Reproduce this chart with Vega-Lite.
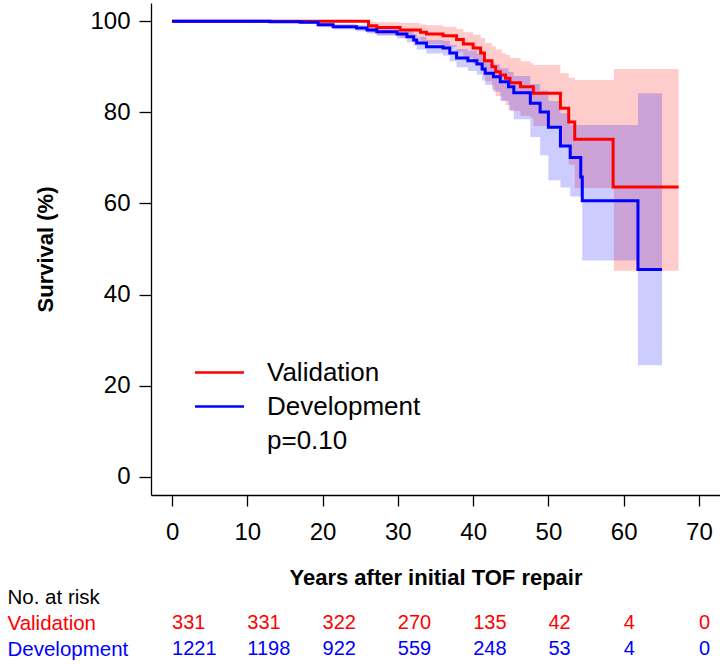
{
  "$schema": "https://vega.github.io/schema/vega-lite/v6.json",
  "autosize": {"type": "pad"},
  "padding": {"left": 7, "top": 3, "right": 0, "bottom": 0},
  "background": "white",
  "bounds": "flush",
  "spacing": 89,
  "config": {
    "view": {"stroke": null},
    "font": "Liberation Sans",
    "axis": {"grid": false, "domainColor": "black", "tickColor": "black", "labelColor": "black", "titleColor": "black", "domainWidth": 1.3, "tickWidth": 1.3}
  },
  "resolve": {"scale": {"x": "independent", "y": "independent", "color": "independent"}, "legend": {"color": "independent"}},
  "datasets": {
    "curves": [
      {"group": "Validation", "time": 0, "surv": 100},
      {"group": "Validation", "time": 26.1, "surv": 99.0},
      {"group": "Validation", "time": 27.2, "surv": 98.6},
      {"group": "Validation", "time": 30.3, "surv": 98.1},
      {"group": "Validation", "time": 33.0, "surv": 97.6},
      {"group": "Validation", "time": 33.8, "surv": 97.2},
      {"group": "Validation", "time": 36.0, "surv": 96.8},
      {"group": "Validation", "time": 37.8, "surv": 96.0},
      {"group": "Validation", "time": 38.7, "surv": 95.0},
      {"group": "Validation", "time": 40.0, "surv": 94.1},
      {"group": "Validation", "time": 41.0, "surv": 93.0},
      {"group": "Validation", "time": 41.5, "surv": 91.3},
      {"group": "Validation", "time": 42.5, "surv": 90.0},
      {"group": "Validation", "time": 43.0, "surv": 88.9},
      {"group": "Validation", "time": 43.6, "surv": 88.2},
      {"group": "Validation", "time": 44.3, "surv": 87.5},
      {"group": "Validation", "time": 44.9, "surv": 86.5},
      {"group": "Validation", "time": 46.3, "surv": 85.6},
      {"group": "Validation", "time": 48.0, "surv": 84.2},
      {"group": "Validation", "time": 51.6, "surv": 80.9},
      {"group": "Validation", "time": 52.7, "surv": 77.9},
      {"group": "Validation", "time": 53.5, "surv": 74.1},
      {"group": "Validation", "time": 58.6, "surv": 63.6},
      {"group": "Validation", "time": 67.3, "surv": 63.6},
      {"group": "Development", "time": 0, "surv": 100},
      {"group": "Development", "time": 13.0, "surv": 99.9},
      {"group": "Development", "time": 17.0, "surv": 99.8},
      {"group": "Development", "time": 19.4, "surv": 99.2},
      {"group": "Development", "time": 21.4, "surv": 98.8},
      {"group": "Development", "time": 24.5, "surv": 98.5},
      {"group": "Development", "time": 25.9, "surv": 98.1},
      {"group": "Development", "time": 27.2, "surv": 97.7},
      {"group": "Development", "time": 29.9, "surv": 97.2},
      {"group": "Development", "time": 31.2, "surv": 96.6},
      {"group": "Development", "time": 32.1, "surv": 95.9},
      {"group": "Development", "time": 32.5, "surv": 95.2},
      {"group": "Development", "time": 33.8, "surv": 94.4},
      {"group": "Development", "time": 36.0, "surv": 94.1},
      {"group": "Development", "time": 36.9, "surv": 93.0},
      {"group": "Development", "time": 37.8, "surv": 91.9},
      {"group": "Development", "time": 39.3, "surv": 91.3},
      {"group": "Development", "time": 40.5, "surv": 90.6},
      {"group": "Development", "time": 41.2, "surv": 89.5},
      {"group": "Development", "time": 41.6, "surv": 88.6},
      {"group": "Development", "time": 42.7, "surv": 87.8},
      {"group": "Development", "time": 43.6, "surv": 86.7},
      {"group": "Development", "time": 44.7, "surv": 85.6},
      {"group": "Development", "time": 45.4, "surv": 84.3},
      {"group": "Development", "time": 47.6, "surv": 82.0},
      {"group": "Development", "time": 48.9, "surv": 80.1},
      {"group": "Development", "time": 50.0, "surv": 76.7},
      {"group": "Development", "time": 51.6, "surv": 72.6},
      {"group": "Development", "time": 52.9, "surv": 70.1},
      {"group": "Development", "time": 54.3, "surv": 65.8},
      {"group": "Development", "time": 54.5, "surv": 60.6},
      {"group": "Development", "time": 61.9, "surv": 45.5},
      {"group": "Development", "time": 65.1, "surv": 45.5}
    ],
    "bands": [
      {"group": "Validation", "time": 0, "lower": 100, "upper": 100},
      {"group": "Validation", "time": 26.1, "lower": 97.6, "upper": 99.9},
      {"group": "Validation", "time": 27.2, "lower": 97.0, "upper": 99.8},
      {"group": "Validation", "time": 30.3, "lower": 96.4, "upper": 99.6},
      {"group": "Validation", "time": 33.0, "lower": 95.6, "upper": 99.3},
      {"group": "Validation", "time": 33.8, "lower": 95.0, "upper": 99.1},
      {"group": "Validation", "time": 36.0, "lower": 94.4, "upper": 98.8},
      {"group": "Validation", "time": 37.8, "lower": 93.2, "upper": 98.3},
      {"group": "Validation", "time": 38.7, "lower": 92.0, "upper": 97.6},
      {"group": "Validation", "time": 40.0, "lower": 90.6, "upper": 97.0},
      {"group": "Validation", "time": 41.0, "lower": 89.0, "upper": 96.3},
      {"group": "Validation", "time": 41.6, "lower": 86.8, "upper": 95.2},
      {"group": "Validation", "time": 42.5, "lower": 85.0, "upper": 94.5},
      {"group": "Validation", "time": 43.0, "lower": 83.6, "upper": 93.8},
      {"group": "Validation", "time": 43.8, "lower": 82.6, "upper": 93.0},
      {"group": "Validation", "time": 44.3, "lower": 81.6, "upper": 92.6},
      {"group": "Validation", "time": 44.9, "lower": 80.3, "upper": 91.9},
      {"group": "Validation", "time": 46.3, "lower": 79.2, "upper": 91.2},
      {"group": "Validation", "time": 47.6, "lower": 78.8, "upper": 90.8},
      {"group": "Validation", "time": 48.0, "lower": 77.0, "upper": 90.4},
      {"group": "Validation", "time": 51.6, "lower": 72.5, "upper": 88.6},
      {"group": "Validation", "time": 52.7, "lower": 68.5, "upper": 87.6},
      {"group": "Validation", "time": 53.5, "lower": 63.4, "upper": 87.1},
      {"group": "Validation", "time": 58.7, "lower": 45.2, "upper": 89.5},
      {"group": "Validation", "time": 67.3, "lower": 45.2, "upper": 89.5},
      {"group": "Development", "time": 0, "lower": 100, "upper": 100},
      {"group": "Development", "time": 13.0, "lower": 99.7, "upper": 100},
      {"group": "Development", "time": 17.0, "lower": 99.4, "upper": 100},
      {"group": "Development", "time": 19.4, "lower": 98.7, "upper": 99.7},
      {"group": "Development", "time": 21.4, "lower": 98.2, "upper": 99.4},
      {"group": "Development", "time": 24.5, "lower": 97.8, "upper": 99.2},
      {"group": "Development", "time": 25.9, "lower": 97.3, "upper": 98.9},
      {"group": "Development", "time": 27.2, "lower": 96.8, "upper": 98.6},
      {"group": "Development", "time": 29.9, "lower": 96.2, "upper": 98.2},
      {"group": "Development", "time": 31.2, "lower": 95.4, "upper": 97.8},
      {"group": "Development", "time": 32.1, "lower": 94.6, "upper": 97.2},
      {"group": "Development", "time": 32.5, "lower": 93.8, "upper": 96.6},
      {"group": "Development", "time": 33.8, "lower": 92.9, "upper": 95.9},
      {"group": "Development", "time": 36.0, "lower": 92.5, "upper": 95.7},
      {"group": "Development", "time": 36.9, "lower": 91.2, "upper": 94.8},
      {"group": "Development", "time": 37.8, "lower": 89.9, "upper": 93.9},
      {"group": "Development", "time": 39.3, "lower": 89.1, "upper": 93.5},
      {"group": "Development", "time": 40.5, "lower": 88.3, "upper": 92.9},
      {"group": "Development", "time": 41.2, "lower": 87.0, "upper": 92.0},
      {"group": "Development", "time": 41.6, "lower": 86.0, "upper": 91.2},
      {"group": "Development", "time": 42.7, "lower": 84.5, "upper": 90.5},
      {"group": "Development", "time": 43.6, "lower": 82.5, "upper": 89.7},
      {"group": "Development", "time": 44.7, "lower": 80.5, "upper": 88.9},
      {"group": "Development", "time": 45.4, "lower": 78.5, "upper": 88.0},
      {"group": "Development", "time": 47.6, "lower": 74.6, "upper": 86.2},
      {"group": "Development", "time": 48.9, "lower": 70.6, "upper": 84.8},
      {"group": "Development", "time": 50.0, "lower": 65.1, "upper": 82.5},
      {"group": "Development", "time": 51.6, "lower": 63.5, "upper": 79.8},
      {"group": "Development", "time": 52.9, "lower": 61.5, "upper": 77.2},
      {"group": "Development", "time": 54.5, "lower": 47.5, "upper": 77.2},
      {"group": "Development", "time": 61.9, "lower": 24.5, "upper": 84.2},
      {"group": "Development", "time": 65.1, "lower": 24.5, "upper": 84.2}
    ],
    "risk": [
      {"group": "Validation", "time": 0, "n": "331"},
      {"group": "Validation", "time": 10, "n": "331"},
      {"group": "Validation", "time": 20, "n": "322"},
      {"group": "Validation", "time": 30, "n": "270"},
      {"group": "Validation", "time": 40, "n": "135"},
      {"group": "Validation", "time": 50, "n": "42"},
      {"group": "Validation", "time": 60, "n": "4"},
      {"group": "Validation", "time": 70, "n": "0"},
      {"group": "Development", "time": 0, "n": "1221"},
      {"group": "Development", "time": 10, "n": "1198"},
      {"group": "Development", "time": 20, "n": "922"},
      {"group": "Development", "time": 30, "n": "559"},
      {"group": "Development", "time": 40, "n": "248"},
      {"group": "Development", "time": 50, "n": "53"},
      {"group": "Development", "time": 60, "n": "4"},
      {"group": "Development", "time": 70, "n": "0"}
    ]
  },
  "vconcat": [
    {
      "width": 569,
      "height": 492,
      "resolve": {"legend": {"color": "independent"}},
      "encoding": {
        "x": {
          "field": "time", "type": "quantitative",
          "scale": {"domain": [-2.8, 72.8], "nice": false, "zero": false},
          "axis": {"values": [0, 10, 20, 30, 40, 50, 60, 70], "tickSize": 11, "labelFontSize": 24, "labelPadding": 14, "labelFlush": false, "labelOverlap": false, "title": "Years after initial TOF repair", "titleFontSize": 22, "titleFontWeight": "bold", "titlePadding": 23}
        }
      },
      "layer": [
        {
          "data": {"name": "bands"},
          "transform": [{"filter": "datum.group === 'Validation'"}],
          "mark": {"type": "area", "interpolate": "step-after", "opacity": 0.2},
          "encoding": {
            "y": {"field": "lower", "type": "quantitative", "scale": {"domain": [-4, 104], "nice": false, "zero": false},
                  "axis": {"values": [0, 20, 40, 60, 80, 100], "tickSize": 12, "labelFontSize": 24, "labelPadding": 9, "title": "Survival (%)", "titleFontSize": 22, "titleFontWeight": "bold", "titlePadding": 32}},
            "y2": {"field": "upper"},
            "color": {"field": "group", "type": "nominal", "legend": null}
          }
        },
        {
          "data": {"name": "bands"},
          "transform": [{"filter": "datum.group === 'Development'"}],
          "mark": {"type": "area", "interpolate": "step-after", "opacity": 0.2},
          "encoding": {
            "y": {"field": "lower", "type": "quantitative"},
            "y2": {"field": "upper"},
            "color": {"field": "group", "type": "nominal", "legend": null}
          }
        },
        {
          "data": {"name": "curves"},
          "transform": [{"filter": "datum.group === 'Validation'"}],
          "mark": {"type": "line", "interpolate": "step-after", "strokeWidth": 3},
          "encoding": {
            "y": {"field": "surv", "type": "quantitative"},
            "color": {
              "field": "group", "type": "nominal",
              "scale": {"domain": ["Validation", "Development", "p=0.10"], "range": ["#FF0000", "#0000FF", "rgba(0,0,0,0)"]},
              "legend": {"title": null, "orient": "none", "legendX": 55, "legendY": 356, "padding": 0, "symbolType": "M-2,0H2", "symbolSize": 600, "symbolStrokeWidth": 2.5, "labelFontSize": 26, "labelColor": "black", "labelOffset": 34, "rowPadding": 7, "labelLimit": 400}
            }
          }
        },
        {
          "data": {"name": "curves"},
          "transform": [{"filter": "datum.group === 'Development'"}],
          "mark": {"type": "line", "interpolate": "step-after", "strokeWidth": 3},
          "encoding": {
            "y": {"field": "surv", "type": "quantitative"},
            "color": {"field": "group", "type": "nominal", "legend": null}
          }
        }
      ]
    },
    {
      "width": 569,
      "height": 78,
      "data": {"name": "risk"},
      "mark": {"type": "text", "align": "left", "baseline": "middle", "fontSize": 20},
      "encoding": {
        "x": {"field": "time", "type": "quantitative", "scale": {"domain": [-2.8, 72.8], "nice": false, "zero": false}, "axis": null},
        "y": {
          "field": "group", "type": "nominal",
          "scale": {"domain": ["No. at risk", "Validation", "Development"]},
          "axis": {"title": null, "domain": false, "ticks": false, "labelAlign": "left", "labelBaseline": "middle", "labelPadding": 144, "labelFontSize": 20.5, "labelLimit": 300,
                   "labelColor": {"condition": [{"test": "datum.value === 'Validation'", "value": "#FF0000"}, {"test": "datum.value === 'Development'", "value": "#0000FF"}], "value": "black"}}
        },
        "text": {"field": "n", "type": "nominal"},
        "color": {"field": "group", "type": "nominal", "scale": {"domain": ["Validation", "Development"], "range": ["#FF0000", "#0000FF"]}, "legend": null}
      }
    }
  ]
}
